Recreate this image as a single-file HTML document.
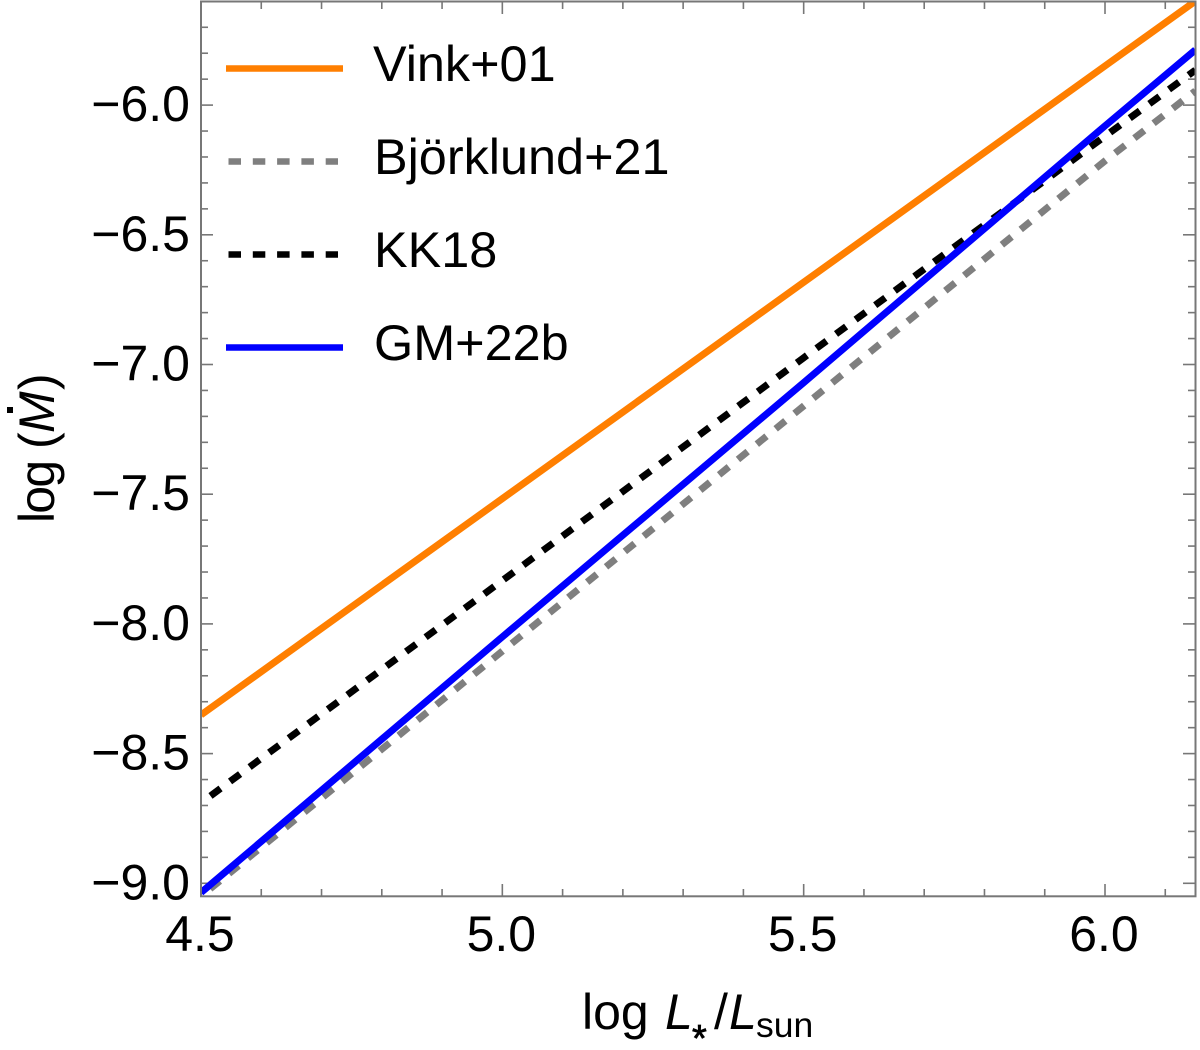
<!DOCTYPE html>
<html>
<head>
<meta charset="utf-8">
<title>Mass-loss rate vs luminosity</title>
<style>
html,body{margin:0;padding:0;background:#fff;width:1200px;height:1050px;overflow:hidden}
svg{display:block;font-family:"Liberation Sans",sans-serif;fill:#000}
</style>
</head>
<body>
<svg id="chart" width="1200" height="1050" viewBox="0 0 1200 1050" xmlns="http://www.w3.org/2000/svg">
  <defs><clipPath id="plot-clip"><rect x="201" y="1.5" width="994.5" height="894.8"/></clipPath></defs>
  <g id="ticks"></g>
  <g id="tick-labels" font-size="50"></g>
  <g id="lines" clip-path="url(#plot-clip)"></g>
  <rect x="201" y="1.5" width="994.5" height="894.8" fill="none" stroke="#777" stroke-width="2"/>
  <g font-size="50.4">
    <g id="legend-keys"></g>
    <text x="373" y="81">Vink+01</text>
    <text x="374" y="174">Björklund+21</text>
    <text x="374" y="267">KK18</text>
    <text x="374" y="360">GM+22b</text>
  </g>
  <text x="582" y="1029" font-size="50">log <tspan x="665" font-style="italic">L</tspan><tspan x="692" y="1051" font-size="38" stroke="#000" stroke-width="0.8">*</tspan><tspan x="714" y="1029">/</tspan><tspan x="729" font-style="italic">L</tspan><tspan x="756" y="1037" font-size="35.5">sun</tspan></text>
  <g transform="translate(54,523) rotate(-90)">
    <text x="0" y="0" font-size="50"><tspan letter-spacing="-1.8">log</tspan> <tspan x="74">(</tspan><tspan x="90" font-style="italic">M</tspan><tspan x="133">)</tspan></text>
    <rect x="110" y="-47" width="6" height="6"/>
  </g>
</svg>
<script>
const xMajorTicks = [4.5, 5.0, 5.5, 6.0];
const xMinorTicks = [4.6, 4.7, 4.8, 4.9, 5.1, 5.2, 5.3, 5.4, 5.6, 5.7, 5.8, 5.9, 6.1];
const yMajorTicks = [-9.0, -8.5, -8.0, -7.5, -7.0, -6.5, -6.0];
const yMinorTicks = [-8.9, -8.8, -8.7, -8.6, -8.4, -8.3, -8.2, -8.1, -7.9, -7.8, -7.7, -7.6, -7.4, -7.3, -7.2, -7.1, -6.9, -6.8, -6.7, -6.6, -6.4, -6.3, -6.2, -6.1, -5.9, -5.8, -5.7];
const logL = [4.5, 5.0, 5.5, 6.0, 6.15];
const vink = [-8.351, -7.517, -6.683, -5.849, -5.599];
const bjorklund = [-9.05, -8.105, -7.16, -6.215, -5.945];
const kk18 = [-8.69, -7.833, -6.974, -6.12, -5.865];
const gm22b = [-9.036, -8.05, -7.07, -6.08, -5.787];

const NS = 'http://www.w3.org/2000/svg';
const sx = v => 201 + (v - 4.5) * 602.67;
const sy = v => 883.3 - (v + 9) * 259.4;
const fmt = v => v.toFixed(1).replace('-', '\u2212');

function mk(parent, tag, attrs) {
  const el = document.createElementNS(NS, tag);
  for (const k in attrs) el.setAttribute(k, attrs[k]);
  parent.appendChild(el);
  return el;
}

const tickG = document.getElementById('ticks');
const labelG = document.getElementById('tick-labels');
const tickStyle = { stroke: '#777', 'stroke-width': 1.6 };

function xTick(v, len) {
  const x = sx(v);
  const a = mk(tickG, 'line', { x1: x, x2: x, y1: 896, y2: 896 - len, ...tickStyle });
  
  
  const b = mk(tickG, 'line', { x1: x, x2: x, y1: 2, y2: 2 + len, ...tickStyle });
  
  
}
function yTick(v, len) {
  const y = sy(v);
  const a = mk(tickG, 'line', { x1: 201, x2: 201 + len, y1: y, y2: y, ...tickStyle });
  
  
  const b = mk(tickG, 'line', { x1: 1195, x2: 1195 - len, y1: y, y2: y, ...tickStyle });
  
  
}
xMajorTicks.forEach(v => xTick(v, 12));
xMinorTicks.forEach(v => xTick(v, 7));
yMajorTicks.forEach(v => yTick(v, 12));
yMinorTicks.forEach(v => yTick(v, 7));

xMajorTicks.forEach(v => {
  const t = mk(labelG, 'text', { x: sx(v) - 1, y: 951, 'text-anchor': 'middle' });
  
  
  t.textContent = fmt(v);
});
yMajorTicks.forEach(v => {
  const t = mk(labelG, 'text', { x: 190, y: sy(v) + 16, 'text-anchor': 'end' });
  
  
  t.textContent = fmt(v);
});

const lineG = document.getElementById('lines');
function drawSeries(values, color, dash, name) {
  const pts = logL.map((v, i) => sx(v) + ',' + sy(values[i])).join(' ');
  const attrs = { points: pts, fill: 'none', stroke: color, 'stroke-width': 7 };
  if (dash) { attrs['stroke-dasharray'] = '12.5 11.8'; attrs['stroke-dashoffset'] = 24.3 - 11.8; }
  const p = mk(lineG, 'polyline', attrs);
  
  
}
drawSeries(vink, '#ff7f00', false, 'series-vink');
drawSeries(bjorklund, '#7f7f7f', true, 'series-bjorklund');
drawSeries(kk18, '#000000', true, 'series-kk18');
drawSeries(gm22b, '#0000ff', false, 'series-gm22b');

const keyG = document.getElementById('legend-keys');
function key(y, color, dash, name) {
  const attrs = dash
    ? { x1: 228.5, x2: 338, y1: y, y2: y, stroke: color, 'stroke-width': 6.5, 'stroke-dasharray': '12.5 11.8' }
    : { x1: 226, x2: 343, y1: y, y2: y, stroke: color, 'stroke-width': 6.5 };
  const l = mk(keyG, 'line', attrs);
  
  
}
key(68.5, '#ff7f00', false, 'legend-key-vink');
key(161.5, '#7f7f7f', true, 'legend-key-bjorklund');
key(254.5, '#000000', true, 'legend-key-kk18');
key(347.5, '#0000ff', false, 'legend-key-gm22b');
</script>
</body>
</html>
